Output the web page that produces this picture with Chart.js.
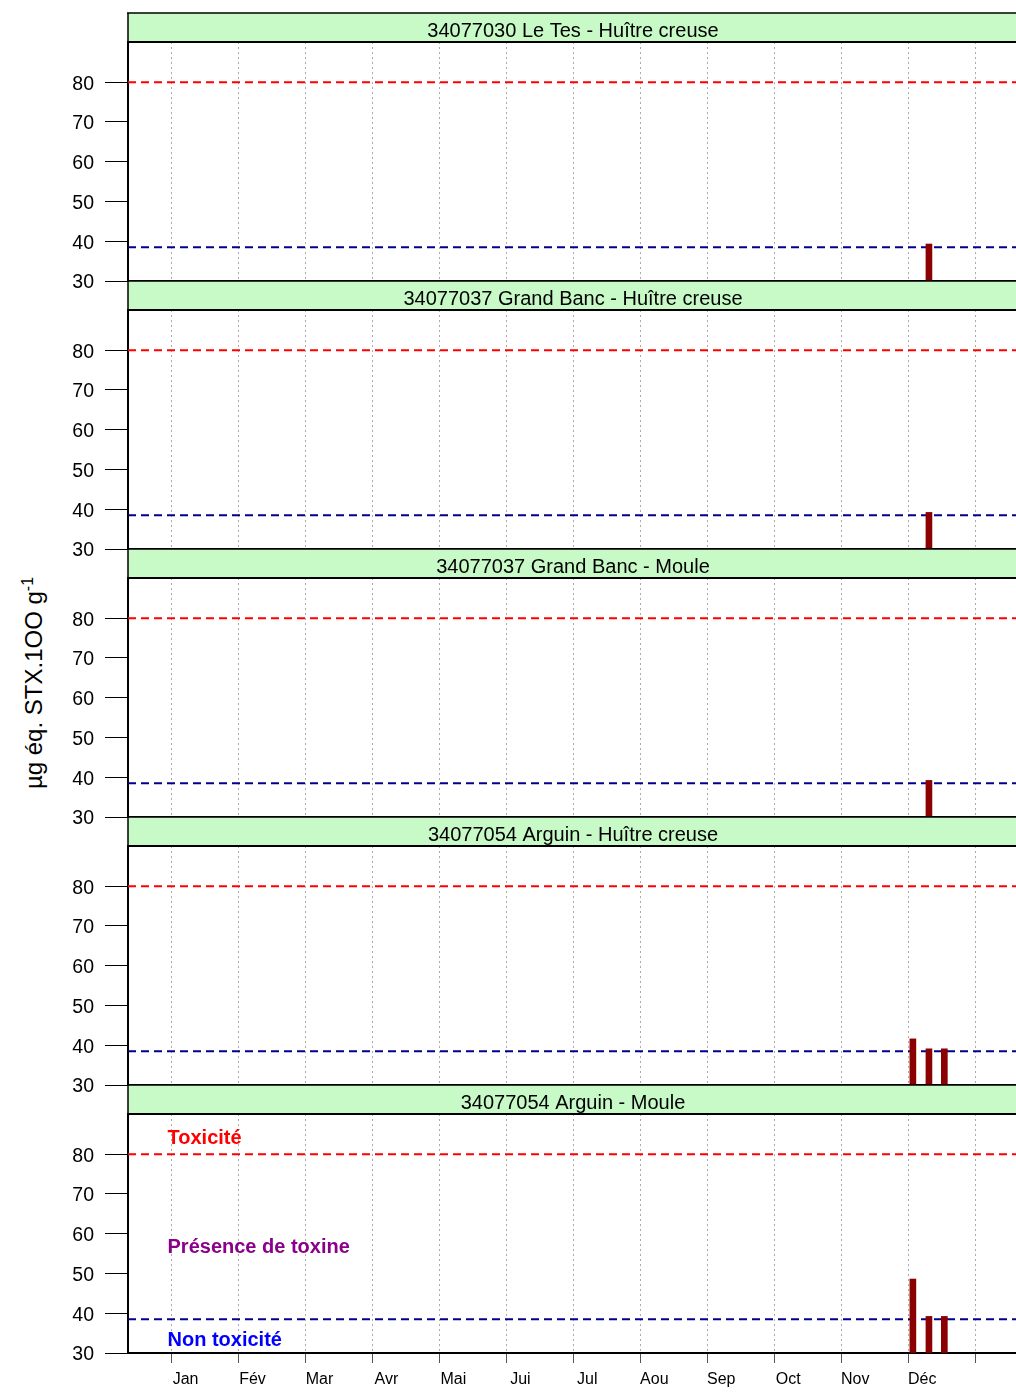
<!DOCTYPE html>
<html>
<head>
<meta charset="utf-8">
<script src="https://cdn.jsdelivr.net/npm/chart.js@4.4.1/dist/chart.umd.min.js"></script>
<style>
  html, body { margin: 0; padding: 0; background: #fff; overflow: hidden; }
  #page { position: relative; width: 1016px; height: 1394px; }
  #page canvas { position: absolute; left: 0; }
  #ytitle {
    position: absolute; left: 33px; top: 683px;
    transform: translate(-50%, -50%) rotate(-90deg);
    font: 24px "Liberation Sans", Arial, sans-serif; white-space: nowrap; color: #000;
  }
  #ytitle sup { font-size: 16px; }
</style>
</head>
<body>
<div id="page">
  <div id="ytitle">µg éq. STX.1OO g<sup>-1</sup></div>
</div>
<script>
// panels, top to bottom
const panelTitles = [
  '34077030 Le Tes - Huître creuse',
  '34077037 Grand Banc - Huître creuse',
  '34077037 Grand Banc - Moule',
  '34077054 Arguin - Huître creuse',
  '34077054 Arguin - Moule',
];

// x axis in months from 1 Jan
const monthLabels = ['Jan', 'Fév', 'Mar', 'Avr', 'Mai', 'Jui', 'Jul', 'Aou', 'Sep', 'Oct', 'Nov', 'Déc', ''];
const monthTicks = [0, 1, 2, 3, 4, 5, 6, 7, 8, 9, 10, 11, 12];
const xMin = -0.65;
const xMax = 12.61;

const yTicks = [30, 40, 50, 60, 70, 80];
const yMin = 30;
const yMax = 90.1;

const toxicityLimit = 80;
const nonToxicLimit = 38.5;

// sampling dates (months) and results per panel
const barMonths = [
  [11.31],
  [11.31],
  [11.31],
  [11.07, 11.31, 11.54],
  [11.07, 11.31, 11.54],
];
const barValues = [
  [39.3],
  [39.2],
  [39.2],
  [41.6, 39.1, 39.1],
  [48.6, 39.2, 39.2],
];

// notes written in the last panel
const noteLabels = ['Toxicité', 'Présence de toxine', 'Non toxicité'];
const noteColors = ['#ff0000', '#8b008b', '#0000ff'];
const noteValues = [82.6, 55.1, 31.7];
const noteMonth = -0.06;

const FONT = '"Liberation Sans", Arial, sans-serif';

const headerPlugin = {
  id: 'header',
  afterDraw(chart, args, opts) {
    const { ctx, chartArea: a } = chart;
    const top = a.top - 29;
    ctx.save();
    ctx.fillStyle = '#c8fac8';
    ctx.fillRect(a.left, top, a.right - a.left + 2, 29);
    ctx.strokeStyle = '#000';
    ctx.lineWidth = 1.5;
    ctx.beginPath();
    ctx.moveTo(a.left - 1, top); ctx.lineTo(a.right + 2, top);
    ctx.moveTo(a.left, top); ctx.lineTo(a.left, a.top);
    ctx.stroke();
    ctx.lineWidth = 2;
    ctx.beginPath();
    ctx.moveTo(a.left - 1, a.top); ctx.lineTo(a.right + 2, a.top);
    ctx.stroke();
    ctx.fillStyle = '#000';
    ctx.font = '20px ' + FONT;
    ctx.textAlign = 'center';
    ctx.textBaseline = 'alphabetic';
    ctx.fillText(opts.text, (a.left + a.right) / 2 + 1, top + 24);
    ctx.restore();
  }
};

const notesPlugin = {
  id: 'notes',
  afterDatasetsDraw(chart, args, opts) {
    if (!opts.show) return;
    const { ctx, scales: { x, y } } = chart;
    ctx.save();
    ctx.font = 'bold 20px ' + FONT;
    ctx.textAlign = 'left';
    ctx.textBaseline = 'alphabetic';
    noteLabels.forEach((t, i) => {
      ctx.fillStyle = noteColors[i];
      ctx.fillText(t, x.getPixelForValue(noteMonth), y.getPixelForValue(noteValues[i]));
    });
    ctx.restore();
  }
};

const page = document.getElementById('page');

panelTitles.forEach((title, i) => {
  const last = i === panelTitles.length - 1;
  const canvas = document.createElement('canvas');
  canvas.width = 1016;
  canvas.height = last ? 322 : 305;
  canvas.style.top = (268 * i) + 'px';
  page.appendChild(canvas);

  new Chart(canvas, {
    type: 'bar',
    data: {
      datasets: [
        {
          type: 'bar',
          data: barMonths[i].map((m, k) => ({ x: m, y: barValues[i][k] })),
          backgroundColor: '#8b0000',
          barThickness: 6,
          base: yMin,
          order: 0,
        },
        {
          type: 'line',
          data: [{ x: xMin, y: toxicityLimit }, { x: xMax, y: toxicityLimit }],
          borderColor: '#ff0000',
          borderWidth: 2,
          borderDash: [8, 5],
          pointRadius: 0,
          order: 1,
        },
        {
          type: 'line',
          data: [{ x: xMin, y: nonToxicLimit }, { x: xMax, y: nonToxicLimit }],
          borderColor: '#00008b',
          borderWidth: 2,
          borderDash: [8, 5],
          pointRadius: 0,
          order: 1,
        },
      ],
    },
    options: {
      responsive: false,
      animation: false,
      layout: { padding: { top: 42, bottom: 0, left: 0, right: 0 } },
      plugins: {
        legend: { display: false },
        tooltip: { enabled: false },
        header: { text: title },
        notes: { show: last },
      },
      scales: {
        x: {
          type: 'linear',
          min: xMin,
          max: xMax,
          offset: false,
          afterBuildTicks: s => { s.ticks = monthTicks.map(v => ({ value: v })); },
          afterFit: s => { s.height = last ? 41 : 24; },
          grid: {
            offset: false,
            color: '#aaaaaa',
            lineWidth: 1,
            drawTicks: last,
            tickLength: 10,
            tickColor: '#555',
            tickWidth: 1,
          },
          border: { color: '#000', width: 2, dash: [2, 3] },
          ticks: {
            display: last,
            autoSkip: false,
            maxRotation: 0,
            labelOffset: 14,
            padding: 7,
            color: '#000',
            font: { family: FONT, size: 16 },
            callback: (v, k) => monthLabels[k],
          },
        },
        y: {
          min: yMin,
          max: yMax,
          beginAtZero: false,
          afterBuildTicks: s => { s.ticks = yTicks.map(v => ({ value: v })); },
          afterFit: s => { s.width = 128; },
          grid: {
            drawOnChartArea: false,
            drawTicks: true,
            tickLength: 23,
            tickColor: '#000',
            tickWidth: 1,
          },
          border: { color: '#000', width: 2 },
          ticks: {
            padding: 11,
            labelOffset: 2,
            color: '#000',
            font: { family: FONT, size: 19.5 },
          },
        },
      },
    },
    plugins: [headerPlugin, notesPlugin],
  });
});
</script>
</body>
</html>
